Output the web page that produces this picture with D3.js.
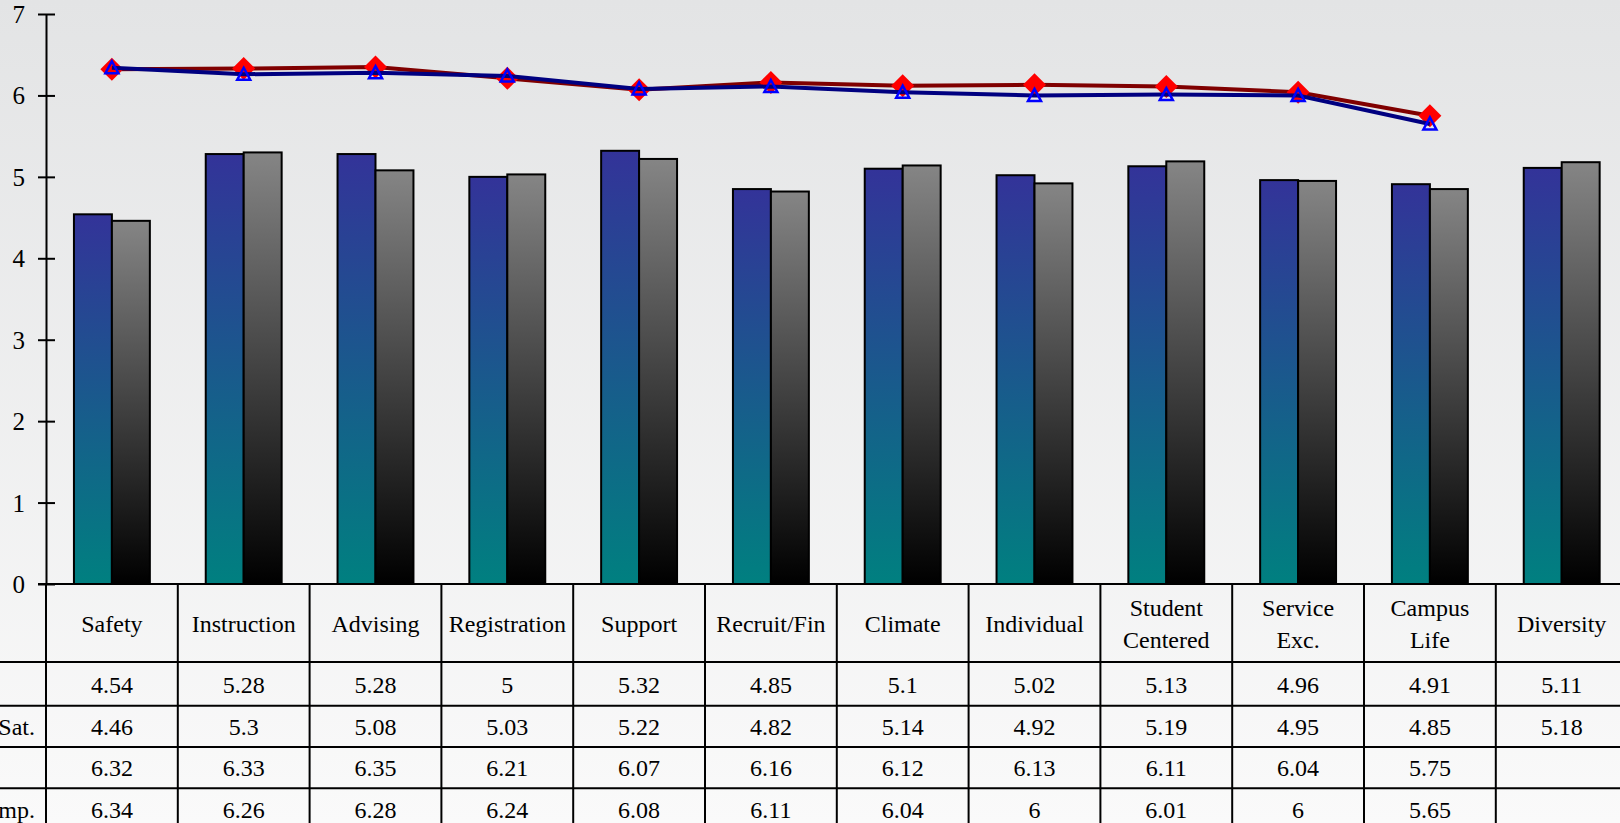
<!DOCTYPE html>
<html>
<head>
<meta charset="utf-8">
<script src="https://cdn.jsdelivr.net/npm/d3@7"></script>
<style>
html,body{margin:0;padding:0;overflow:hidden;background:#fff;}
svg{display:block;}
text{font-family:"Liberation Serif","DejaVu Serif",serif;fill:#000;}
</style>
</head>
<body>
<svg id="chart" width="1620" height="823"></svg>
<script>
// ---- data ----
const categories = ["Safety","Instruction","Advising","Registration","Support","Recruit/Fin","Climate","Individual","Student Centered","Service Exc.","Campus Life","Diversity"];
const headerLines = [["Safety"],["Instruction"],["Advising"],["Registration"],["Support"],["Recruit/Fin"],["Climate"],["Individual"],["Student","Centered"],["Service","Exc."],["Campus","Life"],["Diversity"]];
const satCollege  = [4.54,5.28,5.28,5.00,5.32,4.85,5.10,5.02,5.13,4.96,4.91,5.11];
const satNational = [4.46,5.30,5.08,5.03,5.22,4.82,5.14,4.92,5.19,4.95,4.85,5.18];
const impCollege  = [6.32,6.33,6.35,6.21,6.07,6.16,6.12,6.13,6.11,6.04,5.75,null];
const impNational = [6.34,6.26,6.28,6.24,6.08,6.11,6.04,6.00,6.01,6.00,5.65,null];
const rowLabels = ["","National Sat.","","National Imp."];
const tableText = [
  ["4.54","5.28","5.28","5","5.32","4.85","5.1","5.02","5.13","4.96","4.91","5.11"],
  ["4.46","5.3","5.08","5.03","5.22","4.82","5.14","4.92","5.19","4.95","4.85","5.18"],
  ["6.32","6.33","6.35","6.21","6.07","6.16","6.12","6.13","6.11","6.04","5.75",""],
  ["6.34","6.26","6.28","6.24","6.08","6.11","6.04","6","6.01","6","5.65",""]
];
const yTicks = [0,1,2,3,4,5,6,7];

// ---- layout ----
const W = 1620, H = 823;
const axisX = 46, step = 131.8;
const plotRight = axisX + step * categories.length;
const yTop = 14, yBottom = 584;
const headerBottom = 662;
const rowBottoms = [705.7, 747, 788.3, 829.6];

const svg = d3.select("#chart");
const defs = svg.append("defs");

const bg = defs.append("linearGradient").attr("id","bg").attr("x1",0).attr("y1",0).attr("x2",0).attr("y2",1);
bg.append("stop").attr("offset","0%").attr("stop-color","#e3e4e5");
bg.append("stop").attr("offset","100%").attr("stop-color","#fafafa");

const gBlue = defs.append("linearGradient").attr("id","gBlue").attr("x1",0).attr("y1",0).attr("x2",0).attr("y2",1);
gBlue.append("stop").attr("offset","0%").attr("stop-color","#333399");
gBlue.append("stop").attr("offset","100%").attr("stop-color","#008080");

const gGray = defs.append("linearGradient").attr("id","gGray").attr("x1",0).attr("y1",0).attr("x2",0).attr("y2",1);
gGray.append("stop").attr("offset","0%").attr("stop-color","#858585");
gGray.append("stop").attr("offset","100%").attr("stop-color","#000000");

svg.append("rect").attr("width",W).attr("height",H).attr("fill","url(#bg)");

const x = d3.scaleBand().domain(categories).range([axisX, plotRight]).paddingInner(0.424).paddingOuter(0.212);
const xs = d3.scaleBand().domain(["college","national"]).range([0, x.bandwidth()]);
const y = d3.scaleLinear().domain([0,7]).range([yBottom, yTop]);

// bars
const barSeries = [{key:"college", vals:satCollege, fill:"url(#gBlue)"},{key:"national", vals:satNational, fill:"url(#gGray)"}];
barSeries.forEach(s => {
  svg.append("g").selectAll("rect").data(categories).join("rect")
    .attr("x", c => x(c) + xs(s.key))
    .attr("y", (c,i) => y(s.vals[i]))
    .attr("width", xs.bandwidth())
    .attr("height", (c,i) => y(0) - y(s.vals[i]))
    .attr("fill", s.fill)
    .attr("stroke","#000").attr("stroke-width",2);
});

// lines
const cx = c => x(c) + x.bandwidth()/2;
const lineGen = d3.line().defined(d => d.v != null).x(d => cx(d.c)).y(d => y(d.v));
const impC = categories.map((c,i) => ({c, v: impCollege[i]}));
const impN = categories.map((c,i) => ({c, v: impNational[i]}));

svg.append("path").datum(impC).attr("d", lineGen).attr("fill","none").attr("stroke","#800000").attr("stroke-width",4);
svg.append("g").selectAll("path").data(impC.filter(d => d.v != null)).join("path")
  .attr("transform", d => `translate(${cx(d.c)},${y(d.v)})`)
  .attr("d", "M0,-11.5L11.5,0L0,11.5L-11.5,0Z").attr("fill","#ff0000");

svg.append("path").datum(impN).attr("d", lineGen).attr("fill","none").attr("stroke","#000080").attr("stroke-width",4);
svg.append("g").selectAll("path").data(impN.filter(d => d.v != null)).join("path")
  .attr("transform", d => `translate(${cx(d.c)},${y(d.v)})`)
  .attr("d", "M0,-6.5L6.5,5.5L-6.5,5.5Z").attr("fill","none").attr("stroke","#0000ff").attr("stroke-width",2.5);

// y axis
const yAxis = d3.axisLeft(y).tickValues(yTicks).tickFormat(d3.format("d")).tickSizeInner(8).tickSizeOuter(0).tickPadding(13);
const ga = svg.append("g").attr("transform",`translate(${axisX},0)`).call(yAxis);
ga.select(".domain").attr("stroke","#000").attr("stroke-width",2);
ga.selectAll(".tick line").attr("x1",9).attr("stroke","#000").attr("stroke-width",2);
ga.selectAll(".tick text").attr("font-size",25).attr("font-family","Liberation Serif").attr("fill","#000").attr("dy","0.34em");

// table
const tg = svg.append("g");
tg.append("line").attr("x1",axisX - 8).attr("x2",plotRight).attr("y1",yBottom).attr("y2",yBottom).attr("stroke","#000").attr("stroke-width",2);
[headerBottom, ...rowBottoms].forEach(yy => {
  tg.append("line").attr("x1",-10).attr("x2",plotRight).attr("y1",yy).attr("y2",yy).attr("stroke","#000").attr("stroke-width",2);
});
const colEdges = d3.range(categories.length + 1).map(i => axisX + i*step);
tg.selectAll("line.v").data(colEdges).join("line").attr("class","v")
  .attr("x1", d => d).attr("x2", d => d).attr("y1", yBottom).attr("y2", H + 10)
  .attr("stroke","#000").attr("stroke-width",2);

// header text
const headerCenter = (yBottom + headerBottom)/2;
categories.forEach((c,i) => {
  const lines = headerLines[i];
  const t = tg.append("text").attr("text-anchor","middle").attr("font-size",24);
  lines.forEach((ln,j) => {
    const off = lines.length === 1 ? 9 : (j === 0 ? -7.3 : 25.3);
    t.append("tspan").attr("x", cx(c)).attr("y", headerCenter + off).text(ln);
  });
});

// row values
const rowTops = [headerBottom, ...rowBottoms.slice(0,3)];
tableText.forEach((row, r) => {
  const mid = (rowTops[r] + rowBottoms[r]) / 2;
  row.forEach((txt, i) => {
    if (!txt) return;
    tg.append("text").attr("x", cx(categories[i])).attr("y", mid + 8.8)
      .attr("text-anchor","middle").attr("font-size",24).text(txt);
  });
  if (rowLabels[r]) {
    tg.append("text").attr("x", 35).attr("y", mid + 8.8).attr("text-anchor","end").attr("font-size",24).text(rowLabels[r]);
  }
});
</script>
</body>
</html>
